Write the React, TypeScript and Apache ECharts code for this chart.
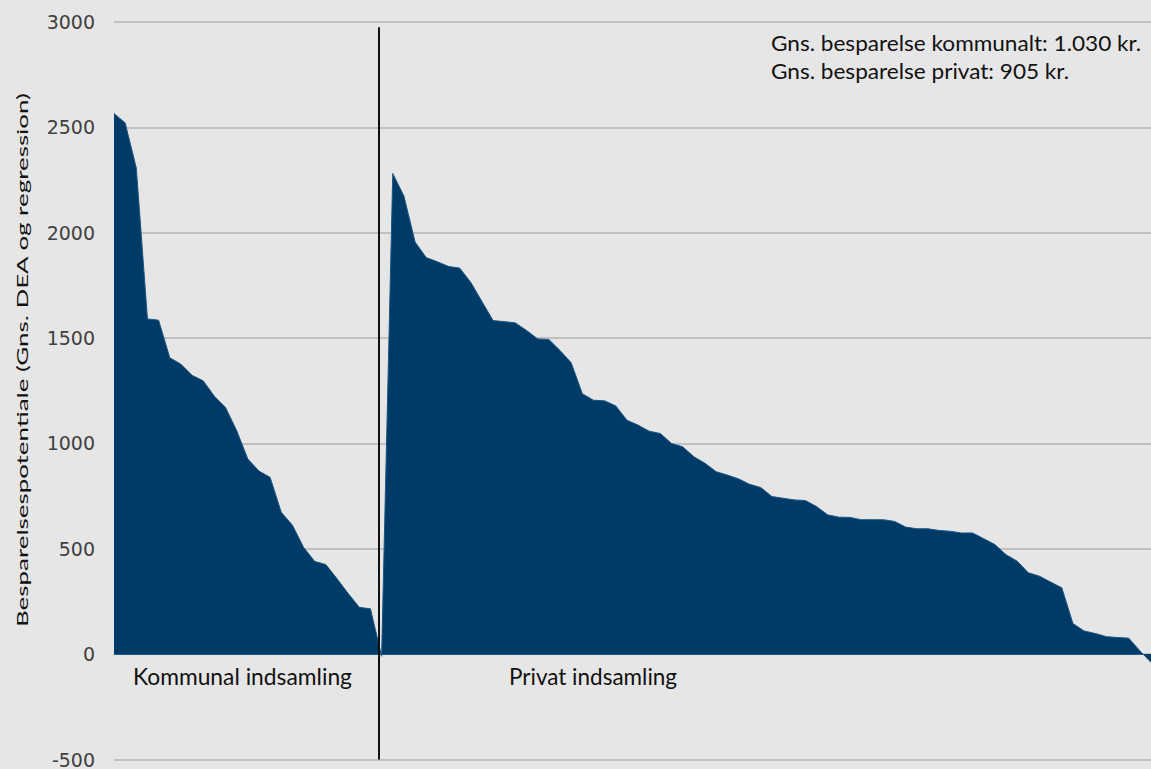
import React, { useEffect, useRef } from "react";
import * as echarts from "echarts";

const kommunal: number[] = [
  2566, 2521, 2307, 1591, 1585, 1407, 1376, 1323, 1297, 1224, 1171, 1061, 926,
  869, 839, 673, 612, 507, 440, 425, 358, 288, 222, 215, -10,
];

const privat: number[] = [
  2281, 2174, 1956, 1882, 1862, 1840, 1832, 1764, 1673, 1583, 1578, 1572, 1536,
  1496, 1493, 1441, 1383, 1236, 1205, 1202, 1178, 1110, 1087, 1058, 1047, 1000,
  984, 937, 906, 866, 850, 832, 806, 791, 748, 740, 732, 729, 701, 661, 650, 649,
  638, 638, 638, 630, 603, 595, 595, 587, 583, 575, 575, 548, 520, 472, 441, 386,
  370, 342, 315, 145, 110, 98, 83, 79, 76, 16, -39,
];

const yTicks = { min: -500, max: 3000, interval: 500 };
const dividerPosition = 23.75;
const yTitle = "Besparelsespotentiale (Gns. DEA og regression)";
const groupLabels = ["Kommunal indsamling", "Privat indsamling"];
const notes = [
  "Gns. besparelse kommunalt: 1.030 kr.",
  "Gns. besparelse privat: 905 kr.",
];

export default function App() {
  const ref = useRef<HTMLDivElement>(null);
  useEffect(() => {
    if (!ref.current) return;
    const chart = echarts.init(ref.current, undefined, { renderer: "svg" });
    const values = [...kommunal, ...privat];
    const data = values.map((v, i) => [i, v]);
    chart.setOption({
      animation: false,
      backgroundColor: "#e6e6e6",
      grid: { left: 114, right: 0, top: 22, bottom: 6, containLabel: false },
      xAxis: {
        type: "value",
        min: 0,
        max: values.length - 1,
        axisLabel: { show: false },
        axisTick: { show: false },
        splitLine: { show: false },
        axisLine: { show: true, onZero: true, lineStyle: { color: "#2a6894", width: 1 } },
      },
      yAxis: {
        type: "value",
        min: yTicks.min,
        max: yTicks.max,
        interval: yTicks.interval,
        axisLine: { show: false },
        axisTick: { show: false },
        axisLabel: {
          color: "#404040",
          fontFamily: "DejaVu Sans",
          fontSize: 19,
          margin: 19,
          formatter: (v: number) => String(v),
        },
        splitLine: { lineStyle: { color: "#b3b3b3", width: 1.5 } },
      },
      series: [
        {
          type: "line",
          data,
          showSymbol: false,
          symbol: "none",
          lineStyle: { color: "#1b5581", width: 1 },
          areaStyle: { color: "#003a66", opacity: 1 },
          markLine: {
            silent: true,
            symbol: "none",
            label: { show: false },
            lineStyle: { color: "#111111", width: 2, type: "solid" },
            data: [
              [
                { coord: [dividerPosition, 2975] },
                { coord: [dividerPosition, yTicks.min] },
              ],
            ],
          },
        },
      ],
      graphic: [
        {
          type: "text",
          x: 22,
          y: 360,
          rotation: Math.PI / 2,
          scaleX: 1.62,
          style: {
            text: yTitle,
            fill: "#111111",
            font: "16px Lato",
            textAlign: "center",
            textVerticalAlign: "middle",
          },
        },
        {
          type: "text",
          x: 133,
          y: 676,
          style: {
            text: groupLabels[0],
            fill: "#111111",
            font: "22.8px Lato",
            textAlign: "left",
            textVerticalAlign: "middle",
          },
        },
        {
          type: "text",
          x: 509,
          y: 676,
          style: {
            text: groupLabels[1],
            fill: "#111111",
            font: "22.5px Lato",
            textAlign: "left",
            textVerticalAlign: "middle",
          },
        },
        {
          type: "text",
          x: 771,
          y: 43,
          scaleX: 1.076,
          style: {
            text: notes[0],
            fill: "#111111",
            font: "21px Lato",
            textAlign: "left",
            textVerticalAlign: "middle",
          },
        },
        {
          type: "text",
          x: 771,
          y: 71,
          scaleX: 1.076,
          style: {
            text: notes[1],
            fill: "#111111",
            font: "21px Lato",
            textAlign: "left",
            textVerticalAlign: "middle",
          },
        },
      ],
    });
    return () => chart.dispose();
  }, []);
  return (
    <div
      ref={ref}
      style={{ position: "fixed", left: 0, top: 0, width: 1151, height: 769 }}
    />
  );
}
